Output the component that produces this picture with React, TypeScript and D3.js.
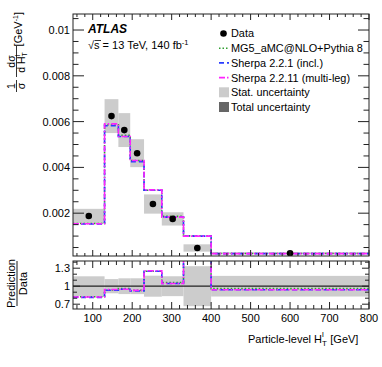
import React from "react";
import * as d3 from "d3";

// bin edges in GeV
const binEdges = [50, 130, 165, 195, 230, 275, 330, 400, 800];
// unfolded data (normalised)
const dataValues = [0.00188, 0.00624, 0.00563, 0.00462, 0.0024, 0.00175, 0.00048, 0.00025];
const statUnc = [0.00031, 0.00074, 0.00074, 0.00061, 0.00042, 0.00029, 0.00016, 0.000043];
// predictions
const mg5Values = [0.00155, 0.00586, 0.0054, 0.0043, 0.003, 0.00186, 0.00101, 0.00024];
const sherpa221Values = [0.00153, 0.00582, 0.00535, 0.00425, 0.003, 0.00183, 0.001, 0.000235];
const sherpa2211Values = [0.00154, 0.0059, 0.00535, 0.0043, 0.00302, 0.00183, 0.001, 0.000235];

const xMajorTicks = [100, 200, 300, 400, 500, 600, 700, 800];
const yMajorTicks = [0.002, 0.004, 0.006, 0.008, 0.01];
const yTickLabels = ["0.002", "0.004", "0.006", "0.008", "0.01"];
const rMajorTicks = [0.7, 1, 1.3];
const rTickLabels = ["0.7", "1", "1.3"];

const W = 382;
const H = 367;
const L = 73;
const R = 369;
const T1 = 14;
const B1 = 256;
const T2 = 261;
const B2 = 309;

const FONT = "'Liberation Sans', Arial, Helvetica, sans-serif";

const series = [
  { name: "MG5_aMC@NLO+Pythia 8", values: mg5Values, color: "#2f9e2f", dash: "1.5,2" },
  { name: "Sherpa 2.2.1 (incl.)", values: sherpa221Values, color: "#2a3cff", dash: "5,3" },
  { name: "Sherpa 2.2.11 (multi-leg)", values: sherpa2211Values, color: "#ff22ff", dash: "6,2,1.5,2" },
];

export default function App() {
  const x = d3.scaleLinear().domain([50, 800]).range([L, R]);
  const y = d3.scaleLinear().domain([0.00013, 0.0107]).range([B1, T1]);
  const yr = d3.scaleLinear().domain([0.62, 1.42]).range([B2, T2]);

  const bins = dataValues.map((v, i) => ({
    lo: binEdges[i],
    hi: binEdges[i + 1],
    mid: (binEdges[i] + binEdges[i + 1]) / 2,
    v,
    err: statUnc[i],
  }));

  const stepPts = (vals: number[]) =>
    vals.flatMap((v, i) => [
      [binEdges[i], v],
      [binEdges[i + 1], v],
    ]);

  const topLine = d3
    .line<number[]>()
    .x((d) => x(d[0]))
    .y((d) => y(d[1]));
  const ratioLine = d3
    .line<number[]>()
    .x((d) => x(d[0]))
    .y((d) => yr(d[1]));

  const xMinor = d3.range(60, 800, 20).filter((v) => v % 100 !== 0);
  const yMinor = d3.range(1, 22).map((k) => k * 0.0005).filter((v) => v < 0.0107 && Math.abs((v / 0.002) - Math.round(v / 0.002)) > 1e-6);
  const rMinor = d3.range(7, 15).map((k) => k / 10).filter((v) => !rMajorTicks.some((m) => Math.abs(m - v) < 1e-6));

  const tick = (x1: number, y1: number, x2: number, y2: number, k: string) => (
    <line key={k} x1={x1} y1={y1} x2={x2} y2={y2} stroke="#222" strokeWidth={1} />
  );

  const panelTicks = (
    top: number,
    bottom: number,
    ys: (v: number) => number,
    yMaj: number[],
    yMin: number[],
    yMajLen: number,
    yMinLen: number,
    xMajLen: number,
    xMinLen: number,
    id: string
  ) => (
    <g>
      {yMaj.map((v, i) => tick(L, ys(v), L + yMajLen, ys(v), `${id}yl${i}`))}
      {yMaj.map((v, i) => tick(R, ys(v), R - yMajLen, ys(v), `${id}yr${i}`))}
      {yMin.map((v, i) => tick(L, ys(v), L + yMinLen, ys(v), `${id}yml${i}`))}
      {yMin.map((v, i) => tick(R, ys(v), R - yMinLen, ys(v), `${id}ymr${i}`))}
      {xMajorTicks.map((v, i) => tick(x(v), bottom, x(v), bottom - xMajLen, `${id}xb${i}`))}
      {xMajorTicks.map((v, i) => tick(x(v), top, x(v), top + xMajLen, `${id}xt${i}`))}
      {xMinor.map((v, i) => tick(x(v), bottom, x(v), bottom - xMinLen, `${id}xmb${i}`))}
      {xMinor.map((v, i) => tick(x(v), top, x(v), top + xMinLen, `${id}xmt${i}`))}
    </g>
  );

  const legendRows = [33.5, 48.2, 62.9, 77.6, 92.3, 107];
  const lgX = 219;
  const lgText = 231;

  return (
    <svg
      width={W}
      height={H}
      style={{ position: "absolute", left: 0, top: 0, background: "#fff" }}
      fontFamily={FONT}
    >
      <defs>
        <clipPath id="ratioClip">
          <rect x={L} y={T2} width={R - L} height={B2 - T2} />
        </clipPath>
        <clipPath id="topClip">
          <rect x={L} y={T1} width={R - L} height={B1 - T1} />
        </clipPath>
      </defs>
      <rect width={W} height={H} fill="#fff" />

      {/* top panel */}
      <g clipPath="url(#topClip)">
        {bins.map((b, i) => (
          <rect
            key={i}
            x={x(b.lo)}
            width={x(b.hi) - x(b.lo)}
            y={y(b.v + b.err)}
            height={y(b.v - b.err) - y(b.v + b.err)}
            fill="#cccccc"
          />
        ))}
        {series.map((s) => (
          <path
            key={s.name}
            d={topLine(stepPts(s.values)) || ""}
            fill="none"
            stroke={s.color}
            strokeWidth={1.6}
            strokeDasharray={s.dash}
          />
        ))}
        {bins.map((b, i) => (
          <circle key={i} cx={x(b.mid)} cy={y(b.v)} r={3.3} fill="#000" />
        ))}
      </g>
      <rect x={L} y={T1} width={R - L} height={B1 - T1} fill="none" stroke="#222" strokeWidth={1} />
      {panelTicks(T1, B1, y, yMajorTicks, yMinor, 11, 5.5, 6, 3, "t")}
      {yMajorTicks.map((v, i) => (
        <text key={i} x={70} y={y(v) + 4} fontSize={11} textAnchor="end" fill="#000">
          {yTickLabels[i]}
        </text>
      ))}

      {/* ratio panel */}
      <g clipPath="url(#ratioClip)">
        {bins.map((b, i) => (
          <rect
            key={i}
            x={x(b.lo)}
            width={x(b.hi) - x(b.lo)}
            y={yr(1 + b.err / b.v)}
            height={yr(1 - b.err / b.v) - yr(1 + b.err / b.v)}
            fill="#cccccc"
          />
        ))}
        <line x1={L} x2={R} y1={yr(1)} y2={yr(1)} stroke="#222" strokeWidth={1.2} />
        {series.map((s) => (
          <path
            key={s.name}
            d={ratioLine(stepPts(s.values.map((v, i) => v / dataValues[i]))) || ""}
            fill="none"
            stroke={s.color}
            strokeWidth={1.6}
            strokeDasharray={s.dash}
          />
        ))}
      </g>
      <rect x={L} y={T2} width={R - L} height={B2 - T2} fill="none" stroke="#222" strokeWidth={1} />
      {panelTicks(T2, B2, yr, rMajorTicks, rMinor, 7, 4, 7, 4, "r")}
      {rMajorTicks.map((v, i) => (
        <text key={i} x={70} y={yr(v) + 4} fontSize={11} textAnchor="end" fill="#000">
          {rTickLabels[i]}
        </text>
      ))}
      {xMajorTicks.map((v) => (
        <text key={v} x={x(v)} y={322} fontSize={11} textAnchor="middle" fill="#000">
          {v}
        </text>
      ))}

      {/* axis titles */}
      <text x={248} y={343} fontSize={11} fill="#000">
        Particle-level H
        <tspan fontSize={8} dy={3}>T</tspan>
        <tspan fontSize={8} dx={-4.9} dy={-9}>l</tspan>
        <tspan fontSize={11} dx={3.5} dy={6}> [GeV]</tspan>
      </text>

      <g transform="rotate(-90)" fill="#000">
        <text x={-12} y={22} fontSize={11} textAnchor="end">
          [GeV<tspan fontSize={7} dy={-4}>-1</tspan>
          <tspan dy={4}>]</tspan>
        </text>
        <line x1={-77} x2={-46} y1={16.5} y2={16.5} stroke="#000" strokeWidth={0.8} />
        <text x={-61.5} y={14.8} fontSize={10.5} textAnchor="middle">dσ</text>
        <text x={-62.5} y={25} fontSize={10.5} textAnchor="middle">
          d H<tspan fontSize={7} dy={2}>T</tspan>
          <tspan fontSize={7} dx={-4.3} dy={-7}>l</tspan>
        </text>
        <line x1={-92} x2={-80} y1={16.5} y2={16.5} stroke="#000" strokeWidth={0.8} />
        <text x={-86} y={14.8} fontSize={10.5} textAnchor="middle">1</text>
        <text x={-86} y={24.5} fontSize={10.5} textAnchor="middle">σ</text>

        <text x={-283.5} y={15} fontSize={11} textAnchor="middle">Prediction</text>
        <line x1={-306} x2={-261} y1={17} y2={17} stroke="#000" strokeWidth={0.9} />
        <text x={-283.5} y={27} fontSize={11} textAnchor="middle">Data</text>
      </g>

      {/* labels */}
      <text x={88} y={33} fontSize={12} fontWeight="bold" fontStyle="italic" fill="#000">
        ATLAS
      </text>
      <text x={88} y={49} fontSize={11} fill="#000">
        √s = 13 TeV, 140 fb<tspan fontSize={7.5} dy={-4}>-1</tspan>
      </text>
      <line x1={94.5} x2={101} y1={40.5} y2={40.5} stroke="#000" strokeWidth={0.8} />

      {/* legend */}
      <circle cx={223.5} cy={legendRows[0]} r={3.3} fill="#000" />
      <text x={lgText} y={legendRows[0] + 3.9} fontSize={10.9}>Data</text>
      {series.map((s, i) => (
        <g key={s.name}>
          <line
            x1={lgX}
            x2={lgX + 10}
            y1={legendRows[i + 1]}
            y2={legendRows[i + 1]}
            stroke={s.color}
            strokeWidth={1.6}
            strokeDasharray={s.dash}
          />
          <text x={lgText} y={legendRows[i + 1] + 3.9} fontSize={10.9}>
            {s.name}
          </text>
        </g>
      ))}
      <rect x={lgX} y={legendRows[4] - 5} width={10} height={10} fill="#cccccc" />
      <text x={lgText} y={legendRows[4] + 3.9} fontSize={10.9}>Stat. uncertainty</text>
      <rect x={lgX} y={legendRows[5] - 5} width={10} height={10} fill="#666666" />
      <text x={lgText} y={legendRows[5] + 3.9} fontSize={10.9}>Total uncertainty</text>
    </svg>
  );
}
